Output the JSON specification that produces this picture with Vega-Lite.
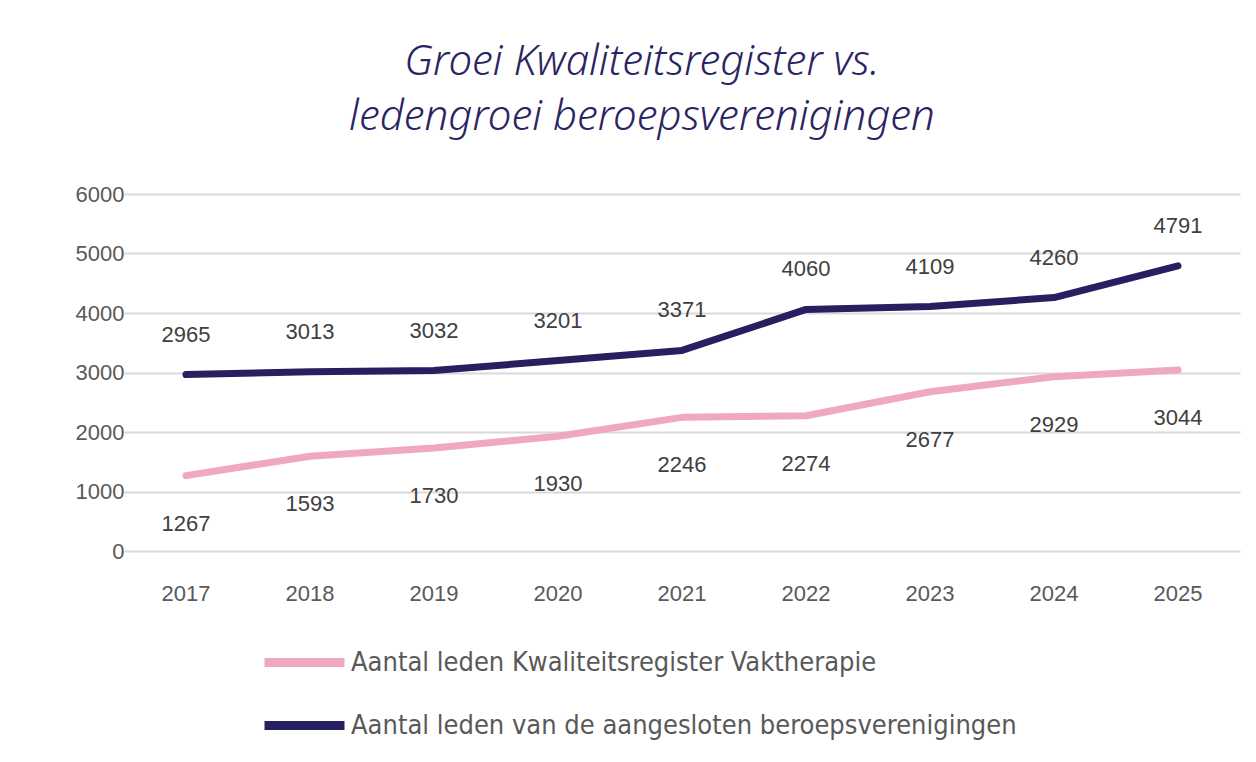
{
  "$schema": "https://vega.github.io/schema/vega-lite/v6.json",
  "width": 1116,
  "height": 357,
  "autosize": {"type": "none"},
  "padding": {"left": 124, "top": 194, "right": 16, "bottom": 211},
  "background": "white",
  "title": {
    "text": ["Groei Kwaliteitsregister vs.", "ledengroei beroepsverenigingen"],
    "font": "Noto Sans",
    "fontStyle": "italic",
    "fontWeight": 300,
    "fontSize": 42,
    "color": "#2b2462",
    "anchor": "middle",
    "lineHeight": 55,
    "offset": 44,
    "dx": -40
  },
  "data": {
    "values": [
      {"year": "2017", "series": "Aantal leden Kwaliteitsregister Vaktherapie", "value": 1267},
      {"year": "2018", "series": "Aantal leden Kwaliteitsregister Vaktherapie", "value": 1593},
      {"year": "2019", "series": "Aantal leden Kwaliteitsregister Vaktherapie", "value": 1730},
      {"year": "2020", "series": "Aantal leden Kwaliteitsregister Vaktherapie", "value": 1930},
      {"year": "2021", "series": "Aantal leden Kwaliteitsregister Vaktherapie", "value": 2246},
      {"year": "2022", "series": "Aantal leden Kwaliteitsregister Vaktherapie", "value": 2274},
      {"year": "2023", "series": "Aantal leden Kwaliteitsregister Vaktherapie", "value": 2677},
      {"year": "2024", "series": "Aantal leden Kwaliteitsregister Vaktherapie", "value": 2929},
      {"year": "2025", "series": "Aantal leden Kwaliteitsregister Vaktherapie", "value": 3044},
      {"year": "2017", "series": "Aantal leden van de aangesloten beroepsverenigingen", "value": 2965},
      {"year": "2018", "series": "Aantal leden van de aangesloten beroepsverenigingen", "value": 3013},
      {"year": "2019", "series": "Aantal leden van de aangesloten beroepsverenigingen", "value": 3032},
      {"year": "2020", "series": "Aantal leden van de aangesloten beroepsverenigingen", "value": 3201},
      {"year": "2021", "series": "Aantal leden van de aangesloten beroepsverenigingen", "value": 3371},
      {"year": "2022", "series": "Aantal leden van de aangesloten beroepsverenigingen", "value": 4060},
      {"year": "2023", "series": "Aantal leden van de aangesloten beroepsverenigingen", "value": 4109},
      {"year": "2024", "series": "Aantal leden van de aangesloten beroepsverenigingen", "value": 4260},
      {"year": "2025", "series": "Aantal leden van de aangesloten beroepsverenigingen", "value": 4791}
    ]
  },
  "encoding": {
    "x": {
      "field": "year",
      "type": "ordinal",
      "scale": {"type": "band", "paddingInner": 0, "paddingOuter": 0},
      "axis": {
        "title": null,
        "labelAngle": 0,
        "labelFont": "Liberation Sans",
        "labelFontSize": 22,
        "labelColor": "#595959",
        "labelPadding": 32,
        "ticks": false,
        "domain": false,
        "grid": false
      }
    },
    "y": {
      "field": "value",
      "type": "quantitative",
      "scale": {"domain": [0, 6000], "nice": false},
      "axis": {
        "title": null,
        "values": [0, 1000, 2000, 3000, 4000, 5000, 6000],
        "format": "d",
        "labelFont": "Liberation Sans",
        "labelFontSize": 22,
        "labelColor": "#595959",
        "labelPadding": 0,
        "ticks": false,
        "domain": false,
        "grid": true,
        "gridColor": "#d9d9d9",
        "gridWidth": 2
      }
    }
  },
  "layer": [
    {
      "mark": {"type": "line", "strokeWidth": 7, "strokeCap": "round", "strokeJoin": "round"},
      "encoding": {
        "color": {
          "field": "series",
          "type": "nominal",
          "sort": ["Aantal leden Kwaliteitsregister Vaktherapie", "Aantal leden van de aangesloten beroepsverenigingen"],
          "scale": {
            "domain": ["Aantal leden Kwaliteitsregister Vaktherapie", "Aantal leden van de aangesloten beroepsverenigingen"],
            "range": ["#efa8bf", "#262060"]
          },
          "legend": {
            "title": null,
            "orient": "none",
            "legendX": 136,
            "legendY": 424,
            "direction": "vertical",
            "symbolType": "stroke",
            "symbolSize": 6400,
            "symbolStrokeWidth": 9,
            "labelFont": "DejaVu Sans Condensed",
            "labelFontSize": 27,
            "labelColor": "#595959",
            "labelOffset": 2,
            "rowPadding": -22,
            "labelLimit": 900
          }
        }
      }
    },
    {
      "transform": [{"filter": "datum.series === 'Aantal leden van de aangesloten beroepsverenigingen'"}],
      "mark": {"type": "text", "dy": -40, "font": "Liberation Sans", "fontSize": 22, "color": "#404040"},
      "encoding": {"text": {"field": "value", "type": "quantitative", "format": "d"}}
    },
    {
      "transform": [{"filter": "datum.series === 'Aantal leden Kwaliteitsregister Vaktherapie'"}],
      "mark": {"type": "text", "dy": 48, "font": "Liberation Sans", "fontSize": 22, "color": "#404040"},
      "encoding": {"text": {"field": "value", "type": "quantitative", "format": "d"}}
    }
  ],
  "config": {"view": {"stroke": null}}
}
